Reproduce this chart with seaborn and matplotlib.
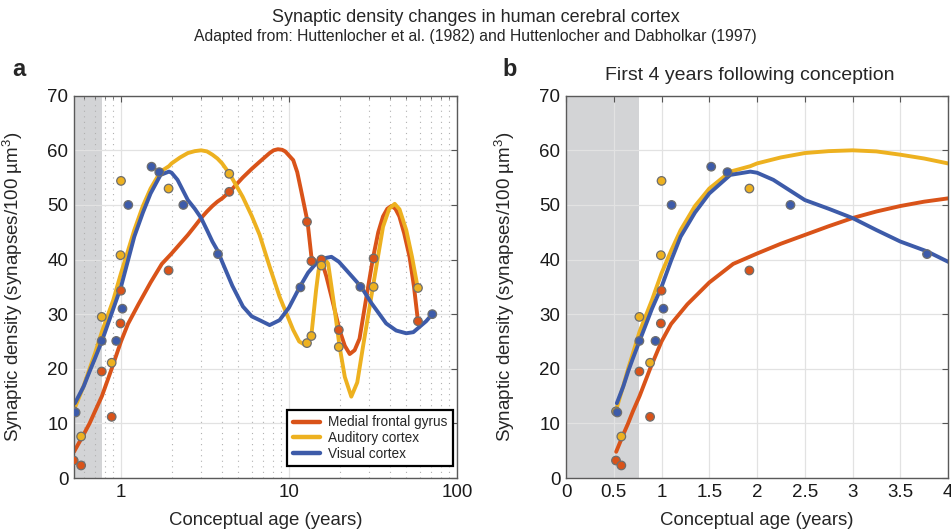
import numpy as np
import pandas as pd
import matplotlib
matplotlib.use('Agg')
import matplotlib.pyplot as plt
import seaborn as sns
from matplotlib.ticker import FuncFormatter, NullFormatter, LogLocator, MultipleLocator

regions = ['Medial frontal gyrus', 'Auditory cortex', 'Visual cortex']
colors = ['#D95319', '#EDB120', '#3D5BA9']
birth = 0.767  # 40 weeks after conception

# measured densities (age in years after conception)
mfg_age = [0.523, 0.579, 0.768, 0.88, 0.993, 1.0, 1.92, 4.41, 12.8, 13.6, 15.6, 19.8, 31.9, 58.6]
mfg_val = [3.2, 2.3, 19.5, 11.2, 28.3, 34.3, 38.0, 52.4, 46.9, 39.7, 40.0, 27.1, 40.2, 28.7]
aud_age = [0.523, 0.579, 0.768, 0.88, 0.993, 1.0, 1.92, 4.41, 12.8, 13.6, 15.6, 19.8, 31.9, 58.6]
aud_val = [12.2, 7.6, 29.5, 21.1, 40.8, 54.4, 53.0, 55.7, 24.7, 26.0, 38.9, 24.0, 35.0, 34.8]
vis_age = [0.537, 0.768, 0.937, 1.02, 1.105, 1.52, 1.69, 2.35, 3.78, 11.7, 26.6, 71.3]
vis_val = [12.0, 25.1, 25.1, 31.0, 50.0, 57.0, 56.0, 50.0, 41.0, 34.9, 35.0, 30.0]

# fitted curves
mfg_fit_age = [0.525, 0.6, 0.65, 0.7, 0.77, 0.88, 1.0, 1.1, 1.27, 1.5, 1.75, 2.0, 2.25, 2.5, 2.75, 3.0,
               3.25, 3.5, 3.75, 4.0, 4.43, 5.3, 6.0, 6.69, 7.67, 8.1, 8.59, 9.1, 9.5, 10.6, 11.2, 11.8,
               12.9, 13.6, 14.5, 15.6, 16.7, 17.9, 20.0, 21.5, 23.0, 24.6, 26.3, 28.5, 31.6, 34.0,
               36.3, 38.5, 40.7, 43.0, 45.4, 48.5, 52.2, 55.5, 58.5]
mfg_fit_val = [4.8, 8.0, 10.0, 12.2, 15.0, 20.0, 25.0, 28.2, 31.8, 35.8, 39.2, 41.1, 42.9, 44.5, 46.1, 47.6,
               48.8, 49.8, 50.6, 51.2, 52.4, 55.0, 56.6, 57.9, 59.5, 60.0, 60.2, 60.1, 59.8, 58.2, 56.0,
               52.7, 46.9, 40.5, 39.6, 39.9, 36.9, 33.2, 27.1, 24.2, 22.7, 23.4, 25.5, 32.0, 40.2, 45.0,
               47.9, 49.3, 49.8, 49.3, 47.9, 44.8, 40.5, 35.0, 28.9]
aud_fit_age = [0.535, 0.6, 0.65, 0.7, 0.77, 0.9, 1.0, 1.1, 1.2, 1.35, 1.5, 1.72, 1.93, 2.0, 2.25, 2.5,
               2.75, 3.0, 3.25, 3.5, 3.75, 4.0, 4.43, 5.3, 6.0, 6.69, 7.67, 8.79, 10.6, 11.5, 12.4,
               13.0, 13.6, 14.5, 15.0, 15.6, 16.3, 17.1, 18.5, 20.0, 21.5, 23.5, 25.5, 27.6, 31.6,
               36.3, 39.5, 42.6, 45.5, 49.9, 54.0, 58.5]
aud_fit_val = [13.1, 16.9, 20.0, 22.8, 26.8, 32.6, 37.5, 41.6, 45.4, 49.8, 53.0, 56.1, 57.1, 57.6, 58.7, 59.5,
               59.85, 60.0, 59.8, 59.2, 58.5, 57.6, 55.7, 51.5, 48.0, 44.5, 38.7, 33.2, 27.1, 25.0, 24.4,
               24.9, 26.2, 34.4, 38.0, 39.9, 40.0, 39.3, 32.0, 24.1, 18.5, 14.9, 17.5, 24.1, 35.0,
               46.0, 49.3, 50.2, 49.2, 45.4, 40.5, 34.7]
vis_fit_age = [0.532, 0.6, 0.65, 0.7, 0.77, 0.9, 1.0, 1.1, 1.2, 1.35, 1.5, 1.72, 1.93, 2.0, 2.17, 2.5,
               2.75, 3.0, 3.25, 3.5, 3.78, 4.0, 4.6, 5.32, 6.0, 6.69, 7.67, 8.79, 10.0, 11.6, 13.0,
               14.5, 16.0, 17.9, 19.8, 21.9, 24.2, 26.9, 31.0, 37.9, 43.5, 49.9, 55.0, 60.0, 65.5, 71.3]
vis_fit_val = [13.7, 16.8, 19.5, 21.9, 25.1, 31.0, 35.0, 39.8, 44.2, 48.6, 52.1, 55.5, 56.1, 55.9, 54.6, 50.9,
               49.3, 47.6, 45.4, 43.3, 41.5, 39.6, 35.2, 31.4, 29.6, 28.9, 28.0, 28.9, 31.2, 35.0, 37.6,
               39.3, 40.2, 40.5, 39.6, 38.1, 36.6, 35.0, 32.0, 28.3, 27.0, 26.5, 26.7, 27.7, 28.7, 30.0]

pts = pd.concat([
    pd.DataFrame({'age': mfg_age, 'density': mfg_val, 'region': regions[0]}),
    pd.DataFrame({'age': aud_age, 'density': aud_val, 'region': regions[1]}),
    pd.DataFrame({'age': vis_age, 'density': vis_val, 'region': regions[2]}),
], ignore_index=True)
fit = pd.concat([
    pd.DataFrame({'age': mfg_fit_age, 'density': mfg_fit_val, 'region': regions[0]}),
    pd.DataFrame({'age': aud_fit_age, 'density': aud_fit_val, 'region': regions[1]}),
    pd.DataFrame({'age': vis_fit_age, 'density': vis_fit_val, 'region': regions[2]}),
], ignore_index=True)

sns.set_style('white')
plt.rcParams['font.family'] = ['Liberation Sans', 'DejaVu Sans']
plt.rcParams['mathtext.fontset'] = 'custom'
plt.rcParams['mathtext.rm'] = 'Liberation Sans'
plt.rcParams['mathtext.it'] = 'Liberation Sans:italic'

pal = dict(zip(regions, colors))
fig = plt.figure(figsize=(9.51, 5.32), dpi=100)
ax1 = fig.add_axes([0.0778, 0.1015, 0.4027, 0.7186])
ax2 = fig.add_axes([0.5952, 0.1015, 0.4017, 0.7186])

ylabel = 'Synaptic density (synapses/100 µm$^3$)'
for ax in (ax1, ax2):
    ax.axvspan(0 if ax is ax2 else 0.3, birth, color='#D3D4D6', lw=0, zorder=0.2)
    sns.lineplot(data=fit, x='age', y='density', hue='region', hue_order=regions, palette=pal,
                 lw=2.8, estimator=None, sort=True, ax=ax, legend=(ax is ax1))
    sns.scatterplot(data=pts, x='age', y='density', hue='region', hue_order=regions, palette=pal,
                    s=38, edgecolor='#6E6E6E', linewidth=0.9, ax=ax, legend=False, zorder=3)
    ax.set_ylim(0, 70)
    ax.yaxis.set_major_locator(MultipleLocator(10))
    ax.set_axisbelow(True)
    ax.set_ylabel(ylabel, fontsize=13.5)
    ax.set_xlabel('Conceptual age (years)', fontsize=13.4)
    ax.yaxis.set_label_coords(-0.128, 0.5)
    ax.xaxis.set_label_coords(0.5, -0.088)
    ax.tick_params(which='both', direction='in', top=True, right=True, color='#555555',
                   labelsize=13.5, labelcolor='#1A1A1A', pad=4)
    ax.tick_params(which='major', length=4.5, width=0.8)
    ax.tick_params(which='minor', length=2.5, width=0.6)
    for sp in ax.spines.values():
        sp.set_color('#5A5A5A')
        sp.set_linewidth(1.0)

# panel a: log age
ax1.set_xscale('log')
ax1.set_xlim(0.525, 100)
ax1.xaxis.set_major_locator(LogLocator(base=10))
ax1.xaxis.set_minor_locator(LogLocator(base=10, subs=np.arange(2, 10)))
ax1.xaxis.set_major_formatter(FuncFormatter(lambda v, p: '%g' % v))
ax1.xaxis.set_minor_formatter(NullFormatter())
ax1.grid(True, which='major', color='#E2E2E2', lw=0.9)
ax1.grid(True, which='minor', axis='x', color='#B0B0B0', ls=(0, (1, 4)), lw=0.8)

handles, labels = ax1.get_legend_handles_labels()
leg = ax1.legend(handles, labels, loc='lower right', bbox_to_anchor=(0.99, 0.031), borderaxespad=0,
                 frameon=True, fancybox=False, edgecolor='black', framealpha=1, fontsize=9.8,
                 handlelength=2.0, borderpad=0.4, labelspacing=0.12, handletextpad=0.6)
leg.get_frame().set_linewidth(1.6)
for h in leg.get_lines():
    h.set_linewidth(3.2)

# panel b: first 4 years, linear age
ax2.set_xlim(0, 4)
ax2.xaxis.set_major_locator(MultipleLocator(0.5))
ax2.xaxis.set_major_formatter(FuncFormatter(lambda v, p: '%g' % v))
ax2.grid(True, which='major', color='#E2E2E2', lw=0.9)

fig.text(0.5, 1 - 18 / 532, 'Synaptic density changes in human cerebral cortex',
         ha='center', va='center', fontsize=13)
fig.text(0.5, 1 - 37 / 532, 'Adapted from: Huttenlocher et al. (1982) and Huttenlocher and Dabholkar (1997)',
         ha='center', va='center', fontsize=11.3)
fig.text(750 / 951, 1 - 76 / 532, 'First 4 years following conception',
         ha='center', va='center', fontsize=14)
fig.text(12 / 951, 1 - 70 / 532, 'a', fontweight='bold', fontsize=17, va='center')
fig.text(502 / 951, 1 - 70 / 532, 'b', fontweight='bold', fontsize=17, va='center')

fig.savefig('out.png', dpi=100)
